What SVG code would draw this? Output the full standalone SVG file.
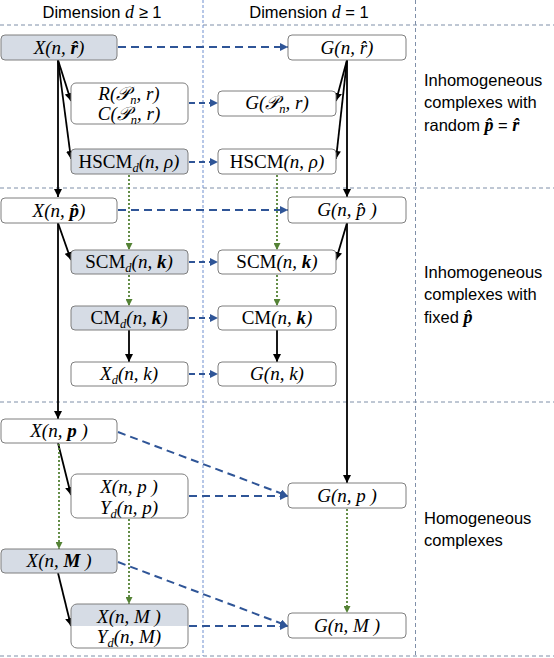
<svg xmlns="http://www.w3.org/2000/svg" width="554" height="658" viewBox="0 0 554 658">
<style>
.grid{stroke:#7F8FA8;stroke-width:1;stroke-dasharray:4 3;fill:none}
.vgrid{stroke:#6F8FCF;stroke-width:1;stroke-dasharray:3 2;fill:none}
.box{fill:#FFFFFF;stroke:#7F7F7F;stroke-width:1}
.fill{fill:#D6DCE5;stroke:#7F7F7F;stroke-width:1}
.m{font-family:"Liberation Serif","DejaVu Serif",serif;font-size:19px;font-style:italic;fill:#000;text-anchor:middle}
.u{font-style:normal}
.b{font-weight:bold}
.s{font-size:12.5px}
.lab{font-family:"Liberation Sans",Arial,sans-serif;font-size:16.5px;fill:#000}
.hd{font-family:"Liberation Sans",Arial,sans-serif;font-size:16.5px;fill:#000;text-anchor:middle}
.bk{stroke:#000;stroke-width:1.8;fill:none;marker-end:url(#ab)}
.bl{stroke:#2F5597;stroke-width:2;stroke-dasharray:8 5;fill:none;marker-end:url(#abl)}
.bls{stroke:#2F5597;stroke-width:2;stroke-dasharray:6 4;fill:none;marker-end:url(#abl)}
.gr{stroke:#548235;stroke-width:1.8;stroke-dasharray:2 2;fill:none;marker-end:url(#ag)}
</style>
<defs>
<marker id="ab" markerUnits="userSpaceOnUse" markerWidth="9" markerHeight="8" refX="8" refY="4" orient="auto"><path d="M0,0 L8,4 L0,8 z" fill="#000"/></marker>
<marker id="abl" markerUnits="userSpaceOnUse" markerWidth="9" markerHeight="8" refX="8" refY="4" orient="auto"><path d="M0,0 L8,4 L0,8 z" fill="#2F5597"/></marker>
<marker id="ag" markerUnits="userSpaceOnUse" markerWidth="8" markerHeight="7" refX="7" refY="3.5" orient="auto"><path d="M0,0 L7,3.5 L0,7 z" fill="#548235"/></marker>
</defs>
<rect x="0" y="0" width="554" height="658" fill="#FFFFFF"/>
<g id="grid">
<line class="grid" x1="0" y1="25" x2="554" y2="25"/>
<line class="grid" x1="0" y1="188" x2="554" y2="188"/>
<line class="grid" x1="0" y1="402" x2="554" y2="402"/>
<line class="grid" x1="0" y1="656" x2="554" y2="656"/>
<line class="vgrid" x1="203" y1="0" x2="203" y2="656"/>
<line class="grid" x1="415.5" y1="0" x2="415.5" y2="656"/>
</g>
<g id="headers">
<text class="hd" x="102" y="18">Dimension <tspan font-family="Liberation Serif" font-style="italic" font-size="18">d</tspan> ≥ 1</text>
<text class="hd" x="309" y="18">Dimension <tspan font-family="Liberation Serif" font-style="italic" font-size="18">d</tspan> = 1</text>
</g>
<g id="labels">
<text class="lab" x="424" y="86">Inhomogeneous</text>
<text class="lab" x="424" y="108">complexes with</text>
<text class="lab" x="424" y="131">random <tspan font-family="Liberation Serif" font-style="italic" font-weight="bold" font-size="18">p̂</tspan> = <tspan font-family="Liberation Serif" font-style="italic" font-weight="bold" font-size="18">r̂</tspan></text>
<text class="lab" x="424" y="278">Inhomogeneous</text>
<text class="lab" x="424" y="300">complexes with</text>
<text class="lab" x="424" y="323">fixed <tspan font-family="Liberation Serif" font-style="italic" font-weight="bold" font-size="18">p̂</tspan></text>
<text class="lab" x="424" y="524">Homogeneous</text>
<text class="lab" x="424" y="546">complexes</text>
</g>
<g id="connectors">
<line class="bk" x1="58" y1="60" x2="71" y2="101"/>
<line class="bk" x1="58" y1="60" x2="71" y2="159"/>
<line class="bk" x1="58" y1="60" x2="58" y2="197"/>
<line class="bk" x1="347" y1="60" x2="336" y2="101"/>
<line class="bk" x1="347" y1="60" x2="336" y2="159"/>
<line class="bk" x1="347" y1="60" x2="347" y2="197"/>
<line class="bk" x1="58" y1="223" x2="71" y2="260"/>
<line class="bk" x1="58" y1="223" x2="58" y2="419"/>
<line class="bk" x1="347" y1="223" x2="336" y2="260"/>
<line class="bk" x1="347" y1="223" x2="347" y2="483"/>
<line class="bk" x1="129" y1="330" x2="129" y2="362"/>
<line class="bk" x1="277" y1="330" x2="277" y2="362"/>
<line class="bk" x1="58" y1="443" x2="71" y2="495"/>
<line class="bk" x1="58" y1="573" x2="71" y2="626"/>
<line class="gr" x1="129" y1="175" x2="129" y2="250"/>
<line class="gr" x1="129" y1="275" x2="129" y2="306"/>
<line class="gr" x1="277" y1="175" x2="277" y2="250"/>
<line class="gr" x1="277" y1="275" x2="277" y2="306"/>
<line class="gr" x1="59" y1="444" x2="59" y2="549"/>
<line class="gr" x1="129" y1="519" x2="129" y2="604"/>
<line class="gr" x1="347" y1="509" x2="347" y2="613"/>
<line class="bl" x1="118" y1="47" x2="288" y2="47"/>
<line class="bls" x1="189" y1="103" x2="218" y2="103"/>
<line class="bls" x1="189" y1="162" x2="218" y2="162"/>
<line class="bl" x1="118" y1="210" x2="288" y2="210"/>
<line class="bls" x1="189" y1="262" x2="218" y2="262"/>
<line class="bls" x1="189" y1="318" x2="218" y2="318"/>
<line class="bls" x1="189" y1="374" x2="218" y2="374"/>
<line class="bl" x1="118" y1="432" x2="288" y2="496"/>
<line class="bl" x1="189" y1="496" x2="288" y2="496"/>
<line class="bl" x1="118" y1="562" x2="288" y2="626"/>
<line class="bl" x1="189" y1="626" x2="288" y2="626"/>
</g>
<g id="n-X-rhat"><rect class="fill" x="1" y="35" width="116" height="25" rx="4"/><text class="m" x="59" y="54">X(n, <tspan class="b">r̂</tspan>)</text></g>
<g id="n-RC"><rect class="box" x="71" y="83" width="117" height="41" rx="5"/><text class="m" x="129" y="100">R(𝒫<tspan class="s" dy="4">n</tspan><tspan dy="-4">, r)</tspan></text><text class="m" x="129" y="120">C(𝒫<tspan class="s" dy="4">n</tspan><tspan dy="-4">, r)</tspan></text></g>
<g id="n-HSCMd"><rect class="fill" x="71" y="149" width="117" height="25" rx="4"/><text class="m" x="129" y="168"><tspan class="u">HSCM</tspan><tspan class="s" dy="4">d</tspan><tspan dy="-4">(n, ρ)</tspan></text></g>
<g id="n-G-rhat"><rect class="box" x="288" y="35" width="118" height="25" rx="4"/><text class="m" x="347" y="54">G(n, r̂)</text></g>
<g id="n-GP"><rect class="box" x="218" y="91" width="118" height="25" rx="4"/><text class="m" x="277" y="109">G(𝒫<tspan class="s" dy="4">n</tspan><tspan dy="-4">, r)</tspan></text></g>
<g id="n-HSCM"><rect class="box" x="218" y="149" width="118" height="25" rx="4"/><text class="m" x="277" y="168"><tspan class="u">HSCM</tspan>(n, ρ)</text></g>
<g id="n-X-phat"><rect class="box" x="1" y="198" width="116" height="25" rx="4"/><text class="m" x="59" y="217">X(n, <tspan class="b">p̂</tspan>)</text></g>
<g id="n-G-phat"><rect class="box" x="288" y="197" width="118" height="26" rx="4"/><text class="m" x="347" y="216">G(n, p̂ )</text></g>
<g id="n-SCMd"><rect class="fill" x="71" y="250" width="117" height="24" rx="4"/><text class="m" x="129" y="268"><tspan class="u">SCM</tspan><tspan class="s" dy="4">d</tspan><tspan dy="-4">(n, </tspan><tspan class="b">k</tspan>)</text></g>
<g id="n-SCM"><rect class="box" x="218" y="250" width="118" height="24" rx="4"/><text class="m" x="277" y="268"><tspan class="u">SCM</tspan>(n, <tspan class="b">k</tspan>)</text></g>
<g id="n-CMd"><rect class="fill" x="71" y="306" width="117" height="24" rx="4"/><text class="m" x="129" y="324"><tspan class="u">CM</tspan><tspan class="s" dy="4">d</tspan><tspan dy="-4">(n, </tspan><tspan class="b">k</tspan>)</text></g>
<g id="n-CM"><rect class="box" x="218" y="306" width="118" height="24" rx="4"/><text class="m" x="277" y="324"><tspan class="u">CM</tspan>(n, <tspan class="b">k</tspan>)</text></g>
<g id="n-Xd"><rect class="box" x="71" y="362" width="117" height="24" rx="4"/><text class="m" x="129" y="380">X<tspan class="s" dy="4">d</tspan><tspan dy="-4">(n, k)</tspan></text></g>
<g id="n-Gk"><rect class="box" x="218" y="362" width="118" height="24" rx="4"/><text class="m" x="277" y="380">G(n, k)</text></g>
<g id="n-X-p"><rect class="box" x="1" y="419" width="116" height="24" rx="4"/><text class="m" x="59" y="437">X(n, <tspan class="b">p</tspan> )</text></g>
<g id="n-XY-p"><rect class="box" x="71" y="474" width="117" height="44" rx="6"/><text class="m" x="129" y="493">X(n, p )</text><text class="m" x="129" y="514">Y<tspan class="s" dy="4">d</tspan><tspan dy="-4">(n, p)</tspan></text></g>
<g id="n-G-p"><rect class="box" x="288" y="483" width="118" height="25" rx="4"/><text class="m" x="347" y="502">G(n, p )</text></g>
<g id="n-X-M"><rect class="fill" x="1" y="549" width="116" height="24" rx="4"/><text class="m" x="59" y="567">X(n, <tspan class="b">M</tspan> )</text></g>
<g id="n-XY-M"><path d="M71,626 V610 a6,6 0 0 1 6,-6 H182 a6,6 0 0 1 6,6 V626 z" fill="#D6DCE5"/><rect class="box" x="71" y="604" width="117" height="44" rx="6" style="fill:none"/><text class="m" x="129" y="623">X(n, M )</text><text class="m" x="129" y="643">Y<tspan class="s" dy="4">d</tspan><tspan dy="-4">(n, M)</tspan></text></g>
<g id="n-G-M"><rect class="box" x="288" y="613" width="118" height="25" rx="4"/><text class="m" x="347" y="632">G(n, M )</text></g>
</svg>
